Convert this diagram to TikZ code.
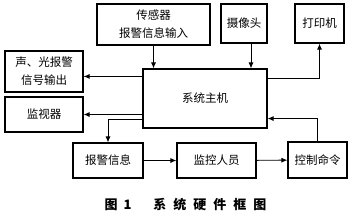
\documentclass[tikz,border=0pt]{standalone}
\usepackage{fontspec}
\setmainfont{Noto Sans CJK SC}
\usetikzlibrary{positioning, arrows.meta}

\begin{document}
\begin{tikzpicture}[
        x=1pt, y=-1pt,
        every node/.style={font=\fontsize{11.5}{18}\selectfont},
        box/.style={
          draw=black, line width=1.1pt,
          fill=white, text=black,
          inner sep=0pt,
          align=center,
        },
        link/.style={
          -{Latex[length=6pt,width=5pt]}, draw=black, line width=0.9pt,
        },
        caption/.style={
          font=\fontsize{13}{15}\selectfont\bfseries,
        },
      ]
      \useasboundingbox (0,0) rectangle (350,218);

      \node[box, minimum width=113pt, minimum height=41pt] (sensor) at (153.5,24.5) {传感器\\报警信息输入};
      \node[box, minimum width=46pt, minimum height=39pt] (camera) at (244,23.5) {摄像头};
      \node[box, minimum width=49pt, minimum height=39pt] (printer) at (319.5,23.5) {打印机};
      \node[box, minimum width=124pt, minimum height=59pt] (host) at (205,98.5) {系统主机};
      \node[box, minimum width=78pt, minimum height=41pt] (sound) at (44,71.5) {声、光报警\\信号输出};
      \node[box, minimum width=78pt, minimum height=35pt] (monitor) at (44,114.5) {监视器};
      \node[box, minimum width=70pt, minimum height=35pt] (alarm) at (108,160.5) {报警信息};
      \node[box, minimum width=79pt, minimum height=35pt] (staff) at (216.5,160.5) {监控人员};
      \node[box, minimum width=59pt, minimum height=36pt] (control) at (317.5,160) {控制命令};

      \coordinate (hs) at ([yshift=-8pt]host.north west);
      \coordinate (cam) at ([xshift=7pt]camera.south);

      \draw[link] (sensor) -- (sensor |- host.north);
      \draw[link] (cam) -- (cam |- host.north);
      \draw[link] ([yshift=-10pt]host.north east) -| (printer.south);
      \draw[link] (hs) -- (sound.east |- hs);
      \draw[link] (host.west |- monitor) -- (monitor.east);
      \draw[link] ([yshift=9pt]host.south west) -| (alarm.north);
      \draw[link] (alarm) -- (staff);
      \draw[link] (staff) -- (control);
      \draw[link] (control.north) |- ([yshift=10pt]host.south east);

      \node[caption] (title) at (185.5,205) {图\hspace{6pt}1\hspace{22pt}系\hspace{7pt}统\hspace{7pt}硬\hspace{7pt}件\hspace{7pt}框\hspace{7pt}图};
    \end{tikzpicture}
\end{document}
